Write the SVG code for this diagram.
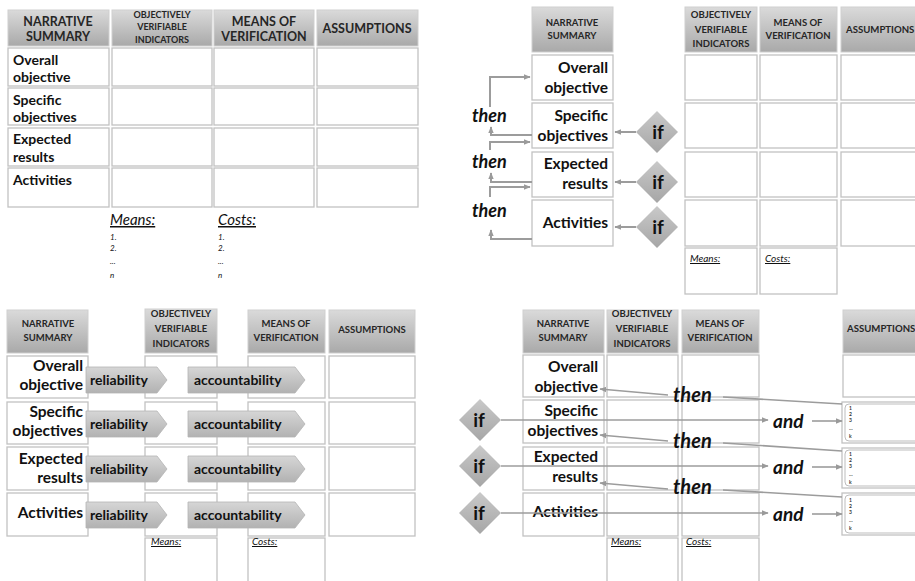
<svg xmlns="http://www.w3.org/2000/svg" width="915" height="581" viewBox="0 0 915 581">
<defs>
<linearGradient id="hg" x1="0" y1="0" x2="0" y2="1"><stop offset="0" stop-color="#dadada"/><stop offset="1" stop-color="#a9a9a9"/></linearGradient>
<linearGradient id="dg" x1="0" y1="0" x2="0" y2="1"><stop offset="0" stop-color="#c9c9c9"/><stop offset="1" stop-color="#a6a6a6"/></linearGradient>
<linearGradient id="ag" x1="0" y1="0" x2="0" y2="1"><stop offset="0" stop-color="#d6d6d6"/><stop offset="1" stop-color="#b2b2b2"/></linearGradient>
<marker id="ah" viewBox="0 0 10 10" refX="9" refY="5" markerWidth="7" markerHeight="7" markerUnits="userSpaceOnUse" orient="auto"><path d="M0,1 L10,5 L0,9 z" fill="#9a9a9a"/></marker>
</defs>
<style>
.hd{fill:url(#hg);stroke:#cfcfcf;stroke-width:1}
.c{fill:#fff;stroke:#c2c2c2;stroke-width:1.3}
.ht{font-family:Lato,"Liberation Sans",sans-serif;font-weight:bold;fill:#262626;text-anchor:middle}
.st{text-anchor:start}
.s{font-size:9.5px}
.l{font-size:12.5px}
.lb{font-family:Lato,"Liberation Sans",sans-serif;font-weight:bold;fill:#111;font-size:14px}
.r{text-anchor:end;font-size:15.5px}
.it{font-family:Lato,"Liberation Sans",sans-serif;font-style:italic;fill:#111}
.u{text-decoration:underline}
.bi{font-family:Lato,"Liberation Sans",sans-serif;font-style:italic;font-weight:bold;fill:#111}
.k{stroke:#9c9c9c;stroke-width:2;fill:none}
.kt{stroke:#9c9c9c;stroke-width:1.6;fill:none}
.dm{fill:url(#dg)}
.ar{fill:url(#ag);stroke:#b4b4b4;stroke-width:0.8}
.ift{font-family:Lato,"Liberation Sans",sans-serif;font-weight:bold;fill:#111;font-size:19px;text-anchor:middle}
.tiny{font-family:Lato,"Liberation Sans",sans-serif;font-weight:bold;fill:#333;font-size:5px}
</style>
<rect width="915" height="581" fill="#fff"/>

<!-- ============ TOP LEFT ============ -->
<g id="tl">
<g id="tl-h1"><rect class="hd" x="8" y="10" width="101" height="36"/><text class="ht l" x="58" y="26">NARRATIVE</text><text class="ht l" x="58" y="41">SUMMARY</text></g>
<g id="tl-h2"><rect class="hd" x="112" y="10" width="100" height="36"/><text class="ht" font-size="9" x="162" y="18">OBJECTIVELY</text><text class="ht" font-size="9" x="162" y="30">VERIFIABLE</text><text class="ht" font-size="9" x="162" y="43">INDICATORS</text></g>
<g id="tl-h3"><rect class="hd" x="214" y="10" width="100" height="36"/><text class="ht l" x="264" y="26">MEANS OF</text><text class="ht l" x="264" y="41">VERIFICATION</text></g>
<g id="tl-h4"><rect class="hd" x="317" y="10" width="101" height="36"/><text class="ht l" x="367" y="33">ASSUMPTIONS</text></g>
<g id="tl-r1"><rect class="c" x="8" y="48" width="101" height="38"/><text class="lb" x="13" y="65">Overall</text><text class="lb" x="13" y="82">objective</text></g>
<g id="tl-r2"><rect class="c" x="8" y="88" width="101" height="37"/><text class="lb" x="13" y="105">Specific</text><text class="lb" x="13" y="122">objectives</text></g>
<g id="tl-r3"><rect class="c" x="8" y="128" width="101" height="38"/><text class="lb" x="13" y="144">Expected</text><text class="lb" x="13" y="162">results</text></g>
<g id="tl-r4"><rect class="c" x="8" y="168" width="101" height="39"/><text class="lb" x="13" y="185">Activities</text></g>
<g id="tl-cells">
<rect class="c" x="112" y="48" width="100" height="38"/><rect class="c" x="214" y="48" width="100" height="38"/><rect class="c" x="317" y="48" width="101" height="38"/>
<rect class="c" x="112" y="88" width="100" height="37"/><rect class="c" x="214" y="88" width="100" height="37"/><rect class="c" x="317" y="88" width="101" height="37"/>
<rect class="c" x="112" y="128" width="100" height="38"/><rect class="c" x="214" y="128" width="100" height="38"/><rect class="c" x="317" y="128" width="101" height="38"/>
<rect class="c" x="112" y="168" width="100" height="39"/><rect class="c" x="214" y="168" width="100" height="39"/><rect class="c" x="317" y="168" width="101" height="39"/>
</g>
<g id="tl-means"><text class="it u" font-size="15" x="110" y="225">Means:</text><text class="it" font-size="8" x="110" y="240">1.</text><text class="it" font-size="8" x="110" y="251">2.</text><text class="it" font-size="8" x="110" y="264">...</text><text class="it" font-size="8" x="110" y="278">n</text></g>
<g id="tl-costs"><text class="it u" font-size="15" x="218" y="225">Costs:</text><text class="it" font-size="8" x="218" y="240">1.</text><text class="it" font-size="8" x="218" y="251">2.</text><text class="it" font-size="8" x="218" y="264">...</text><text class="it" font-size="8" x="218" y="278">n</text></g>
</g>

<!-- ============ TOP RIGHT ============ -->
<g id="tr">
<g id="tr-h1"><rect class="hd" x="532" y="7" width="81" height="45"/><text class="ht s" x="572" y="26">NARRATIVE</text><text class="ht s" x="572" y="39">SUMMARY</text></g>
<g id="tr-h2"><rect class="hd" x="685" y="7" width="72" height="45"/><text class="ht s" x="721" y="18">OBJECTIVELY</text><text class="ht s" x="721" y="33">VERIFIABLE</text><text class="ht s" x="721" y="47">INDICATORS</text></g>
<g id="tr-h3"><rect class="hd" x="760" y="7" width="77" height="45"/><text class="ht s" x="798" y="26">MEANS OF</text><text class="ht s" x="798" y="39">VERIFICATION</text></g>
<g id="tr-h4"><rect class="hd" x="841" y="7" width="80" height="45"/><text class="ht st" font-size="9.6" x="846" y="33">ASSUMPTIONS</text></g>
<g id="tr-r1"><rect class="c" x="532" y="55" width="81" height="45"/><text class="lb r" x="608" y="73">Overall</text><text class="lb r" x="608" y="93">objective</text></g>
<g id="tr-r2"><rect class="c" x="532" y="103" width="81" height="45"/><text class="lb r" x="608" y="121">Specific</text><text class="lb r" x="608" y="141">objectives</text></g>
<g id="tr-r3"><rect class="c" x="532" y="152" width="81" height="45"/><text class="lb r" x="608" y="169">Expected</text><text class="lb r" x="608" y="189">results</text></g>
<g id="tr-r4"><rect class="c" x="532" y="200" width="81" height="46"/><text class="lb r" x="608" y="228">Activities</text></g>
<g id="tr-cells">
<rect class="c" x="685" y="55" width="72" height="45"/><rect class="c" x="760" y="55" width="77" height="45"/><rect class="c" x="841" y="55" width="80" height="45"/>
<rect class="c" x="685" y="103" width="72" height="45"/><rect class="c" x="760" y="103" width="77" height="45"/><rect class="c" x="841" y="103" width="80" height="45"/>
<rect class="c" x="685" y="152" width="72" height="45"/><rect class="c" x="760" y="152" width="77" height="45"/><rect class="c" x="841" y="152" width="80" height="45"/>
<rect class="c" x="685" y="200" width="72" height="46"/><rect class="c" x="760" y="200" width="77" height="46"/><rect class="c" x="841" y="200" width="80" height="46"/>
</g>
<g id="tr-means"><rect class="c" x="685" y="248" width="72" height="46"/><text class="it u" font-size="10" x="690" y="262">Means:</text></g>
<g id="tr-costs"><rect class="c" x="760" y="248" width="77" height="46"/><text class="it u" font-size="10" x="765" y="262">Costs:</text></g>
<g id="tr-if1"><path class="dm" d="M657 111 L678 132 L657 153 L636 132 Z"/><text class="ift" x="658" y="139">if</text></g>
<g id="tr-if2"><path class="dm" d="M657 161 L678 182 L657 203 L636 182 Z"/><text class="ift" x="658" y="189">if</text></g>
<g id="tr-if3"><path class="dm" d="M657 206 L678 227 L657 248 L636 227 Z"/><text class="ift" x="658" y="234">if</text></g>
<g id="tr-then1"><text class="bi" font-size="18" x="472" y="122">then</text></g>
<g id="tr-then2"><text class="bi" font-size="18" x="472" y="168">then</text></g>
<g id="tr-then3"><text class="bi" font-size="18" x="472" y="217">then</text></g>
</g>

<!-- ============ BOTTOM LEFT ============ -->
<g id="bl">
<g id="bl-h1"><rect class="hd" x="7" y="310" width="81" height="43"/><text class="ht s" x="48" y="327">NARRATIVE</text><text class="ht s" x="48" y="341">SUMMARY</text></g>
<g id="bl-h2"><rect class="hd" x="145" y="309" width="72" height="44"/><text class="ht s" x="181" y="317">OBJECTIVELY</text><text class="ht s" x="181" y="332">VERIFIABLE</text><text class="ht s" x="181" y="347">INDICATORS</text></g>
<g id="bl-h3"><rect class="hd" x="248" y="310" width="77" height="43"/><text class="ht s" x="286" y="327">MEANS OF</text><text class="ht s" x="286" y="341">VERIFICATION</text></g>
<g id="bl-h4"><rect class="hd" x="329" y="310" width="86" height="43"/><text class="ht s" x="372" y="333">ASSUMPTIONS</text></g>
<g id="bl-cells">
<rect class="c" x="145" y="356" width="72" height="42"/><rect class="c" x="248" y="356" width="77" height="42"/><rect class="c" x="329" y="356" width="86" height="42"/>
<rect class="c" x="145" y="402" width="72" height="42"/><rect class="c" x="248" y="402" width="77" height="42"/><rect class="c" x="329" y="402" width="86" height="42"/>
<rect class="c" x="145" y="447" width="72" height="43"/><rect class="c" x="248" y="447" width="77" height="43"/><rect class="c" x="329" y="447" width="86" height="43"/>
<rect class="c" x="145" y="493" width="72" height="43"/><rect class="c" x="248" y="493" width="77" height="43"/><rect class="c" x="329" y="493" width="86" height="43"/>
</g>
<g id="bl-r1"><rect class="c" x="7" y="356" width="81" height="42"/><text class="lb r" x="83" y="371">Overall</text><text class="lb r" x="83" y="390">objective</text></g>
<g id="bl-r2"><rect class="c" x="7" y="402" width="81" height="42"/><text class="lb r" x="83" y="417">Specific</text><text class="lb r" x="83" y="436">objectives</text></g>
<g id="bl-r3"><rect class="c" x="7" y="447" width="81" height="43"/><text class="lb r" x="83" y="464">Expected</text><text class="lb r" x="83" y="483">results</text></g>
<g id="bl-r4"><rect class="c" x="7" y="493" width="81" height="43"/><text class="lb r" x="83" y="518">Activities</text></g>
<g id="bl-means"><rect class="c" x="145" y="538" width="72" height="50"/><text class="it u" font-size="10" x="151" y="545">Means:</text></g>
<g id="bl-costs"><rect class="c" x="248" y="538" width="77" height="50"/><text class="it u" font-size="10" x="252" y="545">Costs:</text></g>
<g id="bl-rel1"><path class="ar" d="M86 367 H157 L167 380 L157 393 H86 Z"/><text class="lb" font-size="16" x="90" y="385">reliability</text></g>
<g id="bl-acc1"><path class="ar" d="M188 367 H295 L305 380 L295 393 H188 Z"/><text class="lb" font-size="16" x="194" y="385">accountability</text></g>
<g id="bl-rel2"><path class="ar" d="M86 411 H157 L167 424 L157 437 H86 Z"/><text class="lb" font-size="16" x="90" y="429">reliability</text></g>
<g id="bl-acc2"><path class="ar" d="M188 411 H295 L305 424 L295 437 H188 Z"/><text class="lb" font-size="16" x="194" y="429">accountability</text></g>
<g id="bl-rel3"><path class="ar" d="M86 456 H157 L167 469 L157 482 H86 Z"/><text class="lb" font-size="16" x="90" y="474">reliability</text></g>
<g id="bl-acc3"><path class="ar" d="M188 456 H295 L305 469 L295 482 H188 Z"/><text class="lb" font-size="16" x="194" y="474">accountability</text></g>
<g id="bl-rel4"><path class="ar" d="M86 502 H157 L167 515 L157 528 H86 Z"/><text class="lb" font-size="16" x="90" y="520">reliability</text></g>
<g id="bl-acc4"><path class="ar" d="M188 502 H295 L305 515 L295 528 H188 Z"/><text class="lb" font-size="16" x="194" y="520">accountability</text></g>
</g>

<!-- ============ BOTTOM RIGHT ============ -->
<g id="br">
<g id="br-h1"><rect class="hd" x="523" y="310" width="81" height="43"/><text class="ht s" x="563" y="327">NARRATIVE</text><text class="ht s" x="563" y="341">SUMMARY</text></g>
<g id="br-h2"><rect class="hd" x="607" y="310" width="71" height="43"/><text class="ht s" x="642" y="317">OBJECTIVELY</text><text class="ht s" x="642" y="332">VERIFIABLE</text><text class="ht s" x="642" y="347">INDICATORS</text></g>
<g id="br-h3"><rect class="hd" x="682" y="310" width="77" height="43"/><text class="ht s" x="720" y="327">MEANS OF</text><text class="ht s" x="720" y="341">VERIFICATION</text></g>
<g id="br-h4"><rect class="hd" x="843" y="310" width="80" height="43"/><text class="ht st" font-size="9.6" x="847" y="332">ASSUMPTIONS</text></g>
<g id="br-r1"><rect class="c" x="523" y="355" width="81" height="42"/><text class="lb r" x="598" y="372">Overall</text><text class="lb r" x="598" y="392">objective</text></g>
<g id="br-r2"><rect class="c" x="523" y="400" width="81" height="43"/><text class="lb r" x="598" y="416">Specific</text><text class="lb r" x="598" y="436">objectives</text></g>
<g id="br-r3"><rect class="c" x="523" y="447" width="81" height="43"/><text class="lb r" x="598" y="462">Expected</text><text class="lb r" x="598" y="482">results</text></g>
<g id="br-r4"><rect class="c" x="523" y="493" width="81" height="43"/><text class="lb r" x="598" y="517">Activities</text></g>
<g id="br-cells">
<rect class="c" x="607" y="355" width="71" height="42"/><rect class="c" x="682" y="355" width="77" height="42"/>
<rect class="c" x="607" y="400" width="71" height="43"/><rect class="c" x="682" y="400" width="77" height="43"/>
<rect class="c" x="607" y="447" width="71" height="43"/><rect class="c" x="682" y="447" width="77" height="43"/>
<rect class="c" x="607" y="493" width="71" height="43"/><rect class="c" x="682" y="493" width="77" height="43"/>
<rect class="c" x="843" y="355" width="80" height="42"/>
</g>
<g id="br-a2"><rect class="c" x="842" y="402" width="80" height="41"/><rect x="845" y="404" width="80" height="37" rx="4" fill="#fff" stroke="#bdbdbd" stroke-width="1"/><text class="tiny" x="849" y="410">1</text><text class="tiny" x="849" y="416">2</text><text class="tiny" x="849" y="422">3</text><text class="tiny" x="849" y="430">...</text><text class="tiny" x="849" y="438">k</text></g>
<g id="br-a3"><rect class="c" x="842" y="448" width="80" height="40"/><rect x="845" y="450" width="80" height="36" rx="4" fill="#fff" stroke="#bdbdbd" stroke-width="1"/><text class="tiny" x="849" y="456">1</text><text class="tiny" x="849" y="462">2</text><text class="tiny" x="849" y="468">3</text><text class="tiny" x="849" y="476">...</text><text class="tiny" x="849" y="484">k</text></g>
<g id="br-a4"><rect class="c" x="842" y="493" width="80" height="42"/><rect x="845" y="495" width="80" height="38" rx="4" fill="#fff" stroke="#bdbdbd" stroke-width="1"/><text class="tiny" x="849" y="502">1</text><text class="tiny" x="849" y="508">2</text><text class="tiny" x="849" y="514">3</text><text class="tiny" x="849" y="522">...</text><text class="tiny" x="849" y="530">k</text></g>
<g id="br-means"><rect class="c" x="607" y="538" width="71" height="50"/><text class="it u" font-size="10" x="611" y="545">Means:</text></g>
<g id="br-costs"><rect class="c" x="682" y="538" width="77" height="50"/><text class="it u" font-size="10" x="686" y="545">Costs:</text></g>
<g id="br-if1"><path class="dm" d="M480 399 L501 420 L480 441 L459 420 Z"/><text class="ift" x="479" y="427">if</text></g>
<g id="br-if2"><path class="dm" d="M480 445 L501 466 L480 487 L459 466 Z"/><text class="ift" x="479" y="473">if</text></g>
<g id="br-if3"><path class="dm" d="M480 492 L501 513 L480 534 L459 513 Z"/><text class="ift" x="479" y="520">if</text></g>
</g>

<!-- ============ CONNECTORS ============ -->
<g id="connectors">
<path class="k" d="M532 135 H491 V127" marker-end="url(#ah)"/>
<path class="k" d="M490 107 V77 H530" marker-end="url(#ah)"/>
<path class="k" d="M532 182 H491 V173" marker-end="url(#ah)"/>
<path class="k" d="M490 150 V142 H530" marker-end="url(#ah)"/>
<path class="k" d="M532 239 H491 V230" marker-end="url(#ah)"/>
<path class="k" d="M490 197 V187 H530" marker-end="url(#ah)"/>
<path class="k" d="M636 132 H615" marker-end="url(#ah)"/>
<path class="k" d="M636 182 H615" marker-end="url(#ah)"/>
<path class="k" d="M636 227 H615" marker-end="url(#ah)"/>
<path class="kt" d="M501 420 H768" marker-end="url(#ah)"/>
<path class="kt" d="M501 466 H768" marker-end="url(#ah)"/>
<path class="kt" d="M501 513 H768" marker-end="url(#ah)"/>
<path class="kt" d="M812 421 H842" marker-end="url(#ah)"/>
<path class="kt" d="M812 467 H842" marker-end="url(#ah)"/>
<path class="kt" d="M812 514 H842" marker-end="url(#ah)"/>
<path class="kt" d="M668 395 L600 389" marker-end="url(#ah)"/>
<path class="kt" d="M723 397 L842 404"/>
<path class="kt" d="M668 441 L600 435" marker-end="url(#ah)"/>
<path class="kt" d="M723 443 L842 451"/>
<path class="kt" d="M668 489 L600 483" marker-end="url(#ah)"/>
<path class="kt" d="M723 490 L842 497"/>
</g>
<g id="br-labels">
<text class="bi" font-size="20" x="673" y="402">then</text>
<text class="bi" font-size="20" x="673" y="448">then</text>
<text class="bi" font-size="20" x="673" y="494">then</text>
<text class="bi" font-size="19" x="773" y="428">and</text>
<text class="bi" font-size="19" x="773" y="474">and</text>
<text class="bi" font-size="19" x="773" y="521">and</text>
</g>
</svg>
